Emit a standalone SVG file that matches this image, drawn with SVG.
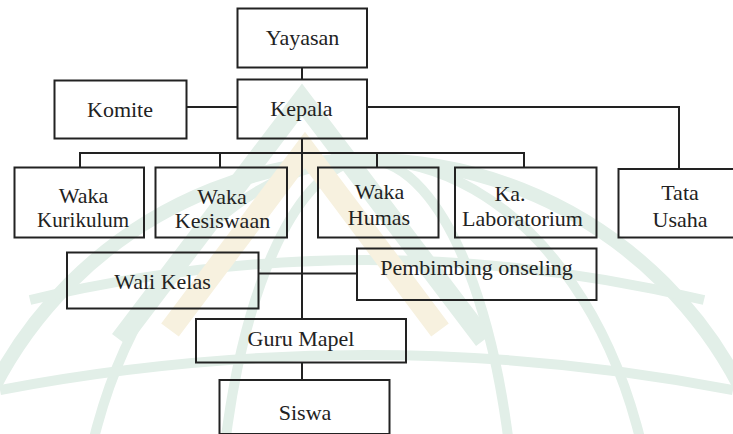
<svg xmlns="http://www.w3.org/2000/svg" width="733" height="434" viewBox="0 0 733 434">
<style>
  .box { fill: none; stroke: #222; stroke-width: 2; }
  .ln { fill: none; stroke: #222; stroke-width: 2; }
  text { font-family: "Liberation Serif", "Times New Roman", serif; font-size: 22px; fill: #222; text-anchor: middle; }
  .wm-g { fill: none; stroke: #e2efe8; }
  .wm-y { fill: none; stroke: #f7f1df; }
</style>
<rect width="733" height="434" fill="#ffffff"/>
<g id="watermark">
  <circle class="wm-g" cx="367" cy="580" r="420" stroke-width="14"/>
  <ellipse class="wm-g" cx="367" cy="580" rx="150" ry="420" stroke-width="10"/>
  <ellipse class="wm-g" cx="367" cy="580" rx="290" ry="420" stroke-width="10"/>
  <path class="wm-g" d="M30,300 Q367,220 704,300" stroke-width="10"/>
  <path class="wm-g" d="M0,390 Q367,320 733,390" stroke-width="10"/>
  <path class="wm-y" d="M170,330 L305,150 L440,330" stroke-width="22"/>
  <path class="wm-g" d="M120,340 L302,100 L484,340" stroke-width="20"/>
</g>
<g id="connectors">
  <path class="ln" d="M302,67.5 V79.5"/>
  <path class="ln" d="M186.5,107 H237"/>
  <path class="ln" d="M367,107 H679 V169"/>
  <path class="ln" d="M302,138.5 V318.5"/>
  <path class="ln" d="M80,167 V153 H524 V167"/>
  <path class="ln" d="M220,153 V167"/>
  <path class="ln" d="M377,153 V167"/>
  <path class="ln" d="M258.5,273.5 H356.5"/>
  <path class="ln" d="M302,362.5 V380"/>
</g>
<g id="yayasan"><rect class="box" x="237.5" y="8.5" width="129.5" height="59"/><text x="302.5" y="45">Yayasan</text></g>
<g id="kepala"><rect class="box" x="237.5" y="79.5" width="129.5" height="59"/><text x="301.5" y="116">Kepala</text></g>
<g id="komite"><rect class="box" x="54.5" y="80.5" width="132" height="58"/><text x="120" y="116.5">Komite</text></g>
<g id="waka-kurikulum"><rect class="box" x="14.5" y="167.5" width="129.5" height="70"/><text x="83.5" y="203">Waka</text><text x="83" y="227" textLength="92" lengthAdjust="spacingAndGlyphs">Kurikulum</text></g>
<g id="waka-kesiswaan"><rect class="box" x="155.5" y="167.5" width="131.5" height="70"/><text x="222" y="204">Waka</text><text x="222.5" y="228">Kesiswaan</text></g>
<g id="waka-humas"><rect class="box" x="318" y="167.5" width="120.5" height="70"/><text x="379.5" y="199">Waka</text><text x="379" y="225">Humas</text></g>
<g id="ka-laboratorium"><rect class="box" x="455" y="167.5" width="141.5" height="70"/><text x="510" y="201">Ka.</text><text x="522.5" y="226">Laboratorium</text></g>
<g id="tata-usaha"><rect class="box" x="618.5" y="169" width="125" height="68.5"/><text x="680" y="200">Tata</text><text x="680" y="227">Usaha</text></g>
<g id="wali-kelas"><rect class="box" x="67" y="252.5" width="191.5" height="56"/><text x="162.5" y="289">Wali Kelas</text></g>
<g id="pembimbing"><rect class="box" x="357" y="248.5" width="239.5" height="51.5"/><text x="476.5" y="275">Pembimbing onseling</text></g>
<g id="guru-mapel"><rect class="box" x="196" y="319" width="210" height="43.5"/><text x="301" y="346">Guru Mapel</text></g>
<g id="siswa"><rect class="box" x="219.5" y="380" width="170" height="54"/><text x="305" y="420">Siswa</text></g>
</svg>
